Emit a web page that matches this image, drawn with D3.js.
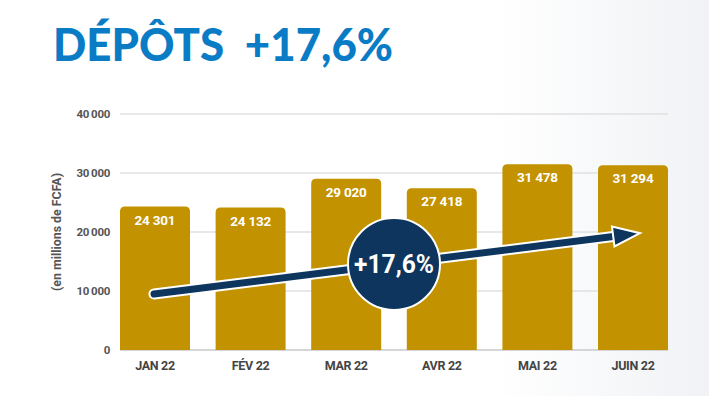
<!DOCTYPE html>
<html>
<head>
<meta charset="utf-8">
<script src="https://cdn.jsdelivr.net/npm/d3@7"></script>
<style>
  body { margin: 0; background: #fff; }
  svg { display: block; }
</style>
</head>
<body>
<svg id="chart" width="709" height="396"></svg>
<script>
// data
var months = ['JAN 22', 'FÉV 22', 'MAR 22', 'AVR 22', 'MAI 22', 'JUIN 22'];
var deposits = [24301, 24132, 29020, 27418, 31478, 31294];
var yTicks = [0, 10000, 20000, 30000, 40000];
var growthLabel = '+17,6%';
// arrow runs from ~9 500 over Jan to ~19 800 over Juin
var arrowFrom = ['JAN 22', 9500];
var arrowTo = ['JUIN 22', 19800];

var svg = d3.select('#chart');
var W = 709, H = 396;

// faint grey wash on the right side
var defs = svg.append('defs');
var grad = defs.append('linearGradient').attr('id', 'bg').attr('x1', 0).attr('x2', 1).attr('y1', 0).attr('y2', 0);
grad.append('stop').attr('offset', '0%').attr('stop-color', '#ffffff');
grad.append('stop').attr('offset', '70%').attr('stop-color', '#ffffff');
grad.append('stop').attr('offset', '100%').attr('stop-color', '#f0f2f5');
svg.append('rect').attr('width', W).attr('height', H).attr('fill', 'url(#bg)');

var x = d3.scaleBand().domain(months).range([120, 668]).paddingInner(0.268).paddingOuter(0);
var y = d3.scaleLinear().domain([0, 40000]).range([350, 114]);

var fmt = function(v) { return d3.format(',')(v).replace(',', '\u2009'); };
var fmtBar = function(v) { return d3.format(',')(v).replace(',', ' '); };

// title
svg.append('text')
    .attr('x', 53).attr('y', 61)
    .attr('textLength', 340).attr('lengthAdjust', 'spacingAndGlyphs')
    .style('white-space', 'pre')
    .style('font-family', 'Lato, "DejaVu Sans", sans-serif')
    .style('font-weight', 900).style('font-size', '46px')
    .style('fill', '#0a7cc6')
    .text('DÉPÔTS  +17,6%');

// gridlines
svg.append('g').selectAll('line').data(yTicks).enter()
    .append('line')
    .attr('x1', 120).attr('x2', 668)
    .attr('y1', function(d) { return y(d); }).attr('y2', function(d) { return y(d); })
    .style('stroke', function(d) { return d === 0 ? '#c8c8c8' : '#e0e0e0'; })
    .style('stroke-width', 1.5);

// y tick labels
svg.append('g').selectAll('text').data(yTicks).enter()
    .append('text')
    .attr('x', 110).attr('y', function(d) { return y(d) + 4; })
    .attr('text-anchor', 'end')
    .style('font-family', '"Roboto", sans-serif').style('font-weight', 700)
    .style('font-size', '11.5px').style('fill', '#555')
    .style('letter-spacing', '-0.3px')
    .text(function(d) { return fmt(d); });

// y axis title
svg.append('text')
    .attr('transform', 'translate(61,232) rotate(-90)')
    .attr('text-anchor', 'middle')
    .attr('textLength', 118).attr('lengthAdjust', 'spacingAndGlyphs')
    .style('font-family', '"Roboto", sans-serif').style('font-weight', 700)
    .style('font-size', '12.5px').style('fill', '#555')
    .text('(en millions de FCFA)');

// bars with rounded tops
var r = 5;
svg.append('g').selectAll('path').data(deposits).enter()
    .append('path')
    .attr('d', function(d, i) {
        var x0 = x(months[i]), x1 = x0 + x.bandwidth(), y0 = y(d), yb = y(0);
        return 'M' + x0 + ',' + yb + 'V' + (y0 + r) + 'Q' + x0 + ',' + y0 + ' ' + (x0 + r) + ',' + y0 +
            'H' + (x1 - r) + 'Q' + x1 + ',' + y0 + ' ' + x1 + ',' + (y0 + r) + 'V' + yb + 'Z';
    })
    .style('fill', '#c29200');

// value labels
svg.append('g').selectAll('text').data(deposits).enter()
    .append('text')
    .attr('x', function(d, i) { return x(months[i]) + x.bandwidth() / 2; })
    .attr('y', function(d) { return y(d) + 18; })
    .attr('text-anchor', 'middle')
    .style('font-family', '"Roboto", sans-serif').style('font-weight', 700)
    .style('font-size', '13.5px').style('fill', '#fff')
    .style('letter-spacing', '-0.2px')
    .text(function(d) { return fmtBar(d); });

// x labels
svg.append('g').selectAll('text').data(months).enter()
    .append('text')
    .attr('x', function(d) { return x(d) + x.bandwidth() / 2; })
    .attr('y', 370)
    .attr('text-anchor', 'middle')
    .style('font-family', '"Roboto", sans-serif').style('font-weight', 700)
    .style('font-size', '12.5px').style('fill', '#444')
    .style('letter-spacing', '-0.3px')
    .text(function(d) { return d; });

// growth arrow
var ax0 = x(arrowFrom[0]) + 34, ay0 = y(arrowFrom[1]);
var ax1 = x(arrowTo[0]) + 42, ay1 = y(arrowTo[1]);
var ang = Math.atan2(ay1 - ay0, ax1 - ax0);
var headLen = 27, headW = 10;
var bx = ax1 - headLen * Math.cos(ang), by = ay1 - headLen * Math.sin(ang);
var nx = -Math.sin(ang), ny = Math.cos(ang);
var arrowG = svg.append('g');
[['#fff', 11], ['#0d355e', 7]].forEach(function(s) {
    arrowG.append('line')
        .attr('x1', ax0).attr('y1', ay0).attr('x2', bx + 2 * Math.cos(ang)).attr('y2', by + 2 * Math.sin(ang))
        .style('stroke', s[0]).style('stroke-width', s[1]).style('stroke-linecap', 'round');
});
arrowG.append('path')
    .attr('d', 'M' + ax1 + ',' + ay1 + 'L' + (bx + nx * headW) + ',' + (by + ny * headW) +
        'L' + (bx - nx * headW) + ',' + (by - ny * headW) + 'Z')
    .style('fill', '#0d355e').style('stroke', '#fff').style('stroke-width', 2).style('stroke-linejoin', 'miter');

// badge
var cx = 394, cy = 264;
svg.append('circle').attr('cx', cx).attr('cy', cy).attr('r', 46)
    .style('fill', '#0d355e').style('stroke', '#fff').style('stroke-width', 2);
svg.append('text')
    .attr('x', cx).attr('y', cy + 9)
    .attr('text-anchor', 'middle')
    .style('font-family', '"Roboto", sans-serif').style('font-weight', 700)
    .style('font-size', '25px').style('fill', '#fff')
    .attr('textLength', 80).attr('lengthAdjust', 'spacingAndGlyphs')
    .text(growthLabel);
</script>
</body>
</html>
